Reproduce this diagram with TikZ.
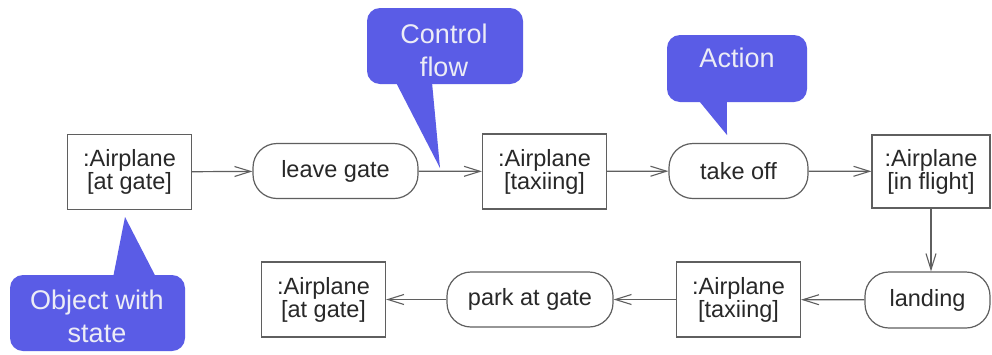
\documentclass[tikz,border=0pt]{standalone}
\usepackage{fontspec}
\setmainfont{Liberation Sans}
\usetikzlibrary{arrows.meta,calc}
\definecolor{callblue}{RGB}{90,92,230}
\definecolor{calltext}{RGB}{236,236,246}
\definecolor{linegray}{RGB}{95,95,95}
\definecolor{txtgray}{RGB}{40,40,40}
\begin{document}
\begin{tikzpicture}[x=1pt,y=-1pt,
  objbox/.style={draw=linegray,line width=1.2pt,fill=white,minimum width=124pt,minimum height=75pt,inner sep=0pt,align=center,text=txtgray,font=\fontsize{23.5}{23}\selectfont},
  actbox/.style={draw=linegray,line width=1.2pt,fill=white,rounded corners=24pt,minimum height=55pt,inner sep=0pt,text=txtgray,font=\fontsize{23.5}{23}\selectfont},
  flow/.style={draw=linegray,line width=1.2pt,-{Straight Barb[length=16pt,width=10pt,line width=1.1pt]}},
  callout/.style={fill=callblue,rounded corners=13pt,inner sep=0pt},
  calltxt/.style={inner sep=0pt,align=center,text=calltext,font=\fontsize{27}{33}\selectfont}]
\fill[white] (0,0) rectangle (992,354);
\useasboundingbox (0,0) rectangle (992,354);

% top row
\node[objbox] (o1) at (129.5,172) {:Airplane\\{}[at gate]};
\node[actbox,minimum width=165pt] (g1) at (335.5,171) {leave gate};
\node[objbox] (o2) at (544.5,171.5) {:Airplane\\{}[taxiing]};
\node[actbox,minimum width=139pt] (g2) at (738.5,171) {take off};
\node[objbox,minimum width=118pt,minimum height=73pt] (o3) at (931,171.5) {:Airplane\\{}[in flight]};

% bottom row
\node[actbox,minimum width=125pt,minimum height=56pt] (g3) at (927.5,300) {landing};
\node[objbox] (o4) at (738.5,299.5) {:Airplane\\{}[taxiing]};
\node[actbox,minimum width=166pt] (g4) at (530,299.5) {park at gate};
\node[objbox] (o5) at (323.5,299.5) {:Airplane\\{}[at gate]};

% control flows
\draw[flow] (o1) -- (g1);
\draw[flow] (g1) -- (o2);
\draw[flow] (o2) -- (g2);
\draw[flow] (g2) -- (o3);
\draw[flow] (o3.south) -- (o3.south |- g3.north);
\draw[flow] (g3) -- (o4);
\draw[flow] (o4) -- (g4);
\draw[flow] (g4) -- (o5);

% callouts
\node[callout,minimum width=156pt,minimum height=76pt] (cf) at (445,46) {};
\node[calltxt] (cft) at (444,50) {Control\\flow};
\coordinate (cftip) at (440,168);
\fill[callblue] ($(cf.south west)+(28,-4)$) -- (cftip) -- ($(cf.south west)+(65,-4)$) -- cycle;

\node[callout,minimum width=140pt,minimum height=67pt] (ca) at (737,68.5) {};
\node[calltxt] (cat) at (737,58) {Action};
\coordinate (catip) at (727,135);
\fill[callblue] ($(ca.south west)+(30,-4)$) -- (catip) -- ($(ca.south west)+(60,-4)$) -- cycle;

\node[callout,minimum width=175pt,minimum height=76pt] (co) at (97.5,313) {};
\node[calltxt] (cot) at (97,316) {Object with\\state};
\coordinate (cotip) at (125,217);
\fill[callblue] ($(co.north west)+(103,4)$) -- (cotip) -- ($(co.north west)+(147,4)$) -- cycle;
\end{tikzpicture}
\end{document}
